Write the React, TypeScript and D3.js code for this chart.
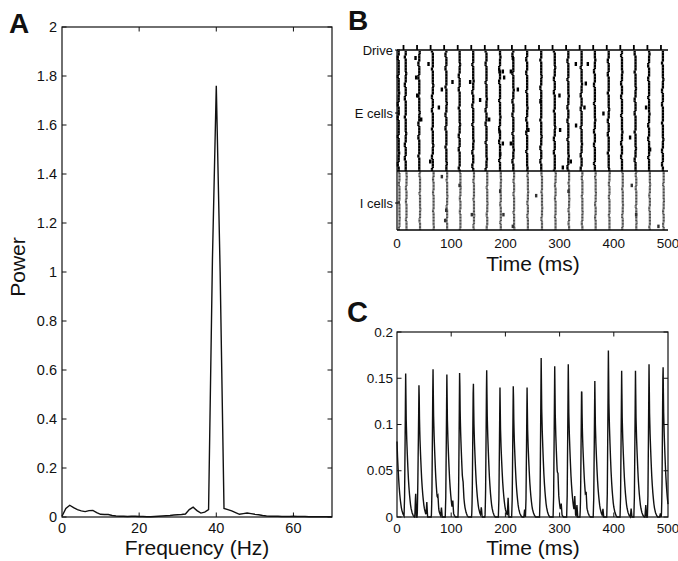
import React from 'react';
import * as d3 from 'd3';

// ---------- Panel A: power spectrum (1 Hz bins, 0..70 Hz) ----------
const POWER = [
  0.003, 0.035, 0.048, 0.038, 0.030, 0.025, 0.022, 0.026, 0.027, 0.018,
  0.011, 0.010, 0.010, 0.006, 0.004, 0.003, 0.003, 0.002, 0.003, 0.003,
  0.002, 0.002, 0.001, 0.001, 0.002, 0.003, 0.004, 0.005, 0.006, 0.008,
  0.009, 0.010, 0.012, 0.030, 0.040, 0.026, 0.016, 0.020, 0.030, 1.05,
  1.76, 1.00, 0.035, 0.030, 0.025, 0.018, 0.011, 0.014, 0.016, 0.014,
  0.011, 0.009, 0.006, 0.004, 0.003, 0.003, 0.003, 0.002, 0.002, 0.002,
  0.003, 0.002, 0.002, 0.002, 0.001, 0.001, 0.001, 0.001, 0.001, 0.001,
  0.001,
];
const A_XTICKS = [0, 20, 40, 60];
const A_YTICKS = [0, 0.2, 0.4, 0.6, 0.8, 1, 1.2, 1.4, 1.6, 1.8, 2];

// ---------- Panel B: raster ----------
const DRIVE_TIMES = [12, 37, 62, 87, 112, 137, 162, 187, 212, 237, 262, 287, 312, 337, 362, 387, 412, 437, 462, 487];
const E_VOLLEYS = [3, 16, 41, 66, 91, 115.5, 140.5, 165, 190, 214.5, 240, 266, 291, 316, 340.5, 365, 390.5, 415, 440, 465, 490.5];
const VOLLEY_SHIFT = [0, 13, 27, 5, 33, 19, 8, 36, 24, 2, 30, 11, 17, 38, 6, 22, 29, 14, 3, 26, 9];
const E_JITTER = [0, 0, 0, -1.6, -1.6, -1.6, 0, 0, 0, 0, 0, 0, 0, 0, 0, 0, -1.6, -1.6, 0, 0, 0, 0, 0, 0, 0, 0, 0, 0.8, 0.8, 0, 0, 0, 0, 0, -1.6, -1.6, -1.6, 0, 0, 0];
const I_DELAY = 1.5;
const E_ROWS = 80;
const I_ROWS = 40;
const E_EXTRA: [number, number][] = [
  [33.8, 4], [57.8, 8], [35, 17], [102, 20], [82.4, 25], [134.6, 20], [36.9, 29], [153, 32],
  [76.9, 37], [44.3, 45], [169.7, 45], [188.7, 13], [194.9, 13], [213.3, 4], [209.7, 13],
  [197.3, 17], [222.6, 25], [265.6, 33], [299.4, 29], [329.6, 8], [351.7, 8], [348, 21],
  [345.5, 37], [380.5, 41], [459.2, 37], [330, 49], [300.6, 52], [188.7, 53], [242, 52],
  [429.7, 57], [194.9, 61], [209.7, 61], [466.6, 65], [190, 68], [60.9, 73], [305.6, 77], [320.3, 73],
];
const I_EXTRA: [number, number][] = [
  [82.4, 3], [115, 9], [190, 13], [256.4, 16], [316, 13], [432.8, 9], [90.4, 26], [137.7, 29],
  [196, 29], [440.8, 29], [88.5, 33], [213.3, 37], [482, 37],
];
const B_XTICKS = [0, 100, 200, 300, 400, 500];

// ---------- Panel C: population activity ----------
const C_PEAK_T = [-1, 16, 40.6, 66.4, 92, 115.6, 140.8, 165.4, 190, 214.6, 240, 266, 291, 316, 340.7, 365, 390, 414.5, 440, 465, 490.8];
const C_PEAK_H = [0.12, 0.155, 0.149, 0.165, 0.154, 0.163, 0.154, 0.164, 0.14, 0.148, 0.14, 0.172, 0.163, 0.165, 0.149, 0.147, 0.18, 0.158, 0.158, 0.165, 0.173];
const KERNEL_T = [-3, -2, -1, 0, 1, 2, 3, 4, 5, 6, 7, 8, 9, 10, 12, 14, 16];
const KERNEL_V = [0, 0.14, 0.55, 1, 0.68, 0.54, 0.44, 0.35, 0.27, 0.21, 0.16, 0.12, 0.085, 0.06, 0.028, 0.01, 0];
const C_BUMP_T = [34.4, 38.7, 55, 75.6, 82, 103, 122, 155.6, 205, 235.5, 297, 303, 328, 332, 349, 380, 432, 459, 486];
const C_BUMP_H = [0.027, 0.024, 0.015, 0.01, 0.01, 0.011, 0.007, 0.01, 0.02, 0.008, 0.013, 0.01, 0.018, 0.013, 0.011, 0.008, 0.009, 0.013, 0.004];
const C_XTICKS = [0, 100, 200, 300, 400, 500];
const C_YTICKS = [0, 0.05, 0.1, 0.15, 0.2];

const FONT = "'Liberation Sans', Arial, Helvetica, sans-serif";
const fmt = (v: number) => String(+v.toFixed(2));

export default function App() {
  // Panel A
  const xA = d3.scaleLinear().domain([0, 70]).range([62, 332]);
  const yA = d3.scaleLinear().domain([0, 2]).range([517, 27]);
  const lineA = d3.line<number>().x((_, i) => xA(i)).y((d) => yA(d));

  // Panel B
  const xB = d3.scaleLinear().domain([0, 500]).range([397, 668]);
  const yE = d3.scaleLinear().domain([0, E_ROWS]).range([51, 171]);
  const yI = d3.scaleLinear().domain([0, I_ROWS]).range([171.5, 230]);
  const eH = yE(1) - yE(0);
  const iH = yI(1) - yI(0);
  const eSpikes: { x: number; y: number }[] = [];
  const iSpikes: { x: number; y: number }[] = [];
  E_VOLLEYS.forEach((t, v) => {
    for (let r = 0; r < E_ROWS; r++) {
      const j = E_JITTER[(r + VOLLEY_SHIFT[v]) % E_JITTER.length];
      eSpikes.push({ x: xB(t + j), y: yE(r) });
    }
    for (let r = 0; r < I_ROWS; r++) {
      const j = E_JITTER[(r + VOLLEY_SHIFT[(v + 7) % VOLLEY_SHIFT.length]) % E_JITTER.length];
      iSpikes.push({ x: xB(t + I_DELAY + j * 0.6), y: yI(r) });
    }
  });

  // Panel C
  const xC = d3.scaleLinear().domain([0, 500]).range([397, 668]);
  const yC = d3.scaleLinear().domain([0, 0.2]).range([517, 332]);
  const kern = d3.scaleLinear().domain(KERNEL_T).range(KERNEL_V).clamp(true);
  const bump = d3.scaleLinear().domain([-1.5, 0, 1.5]).range([0, 1, 0]).clamp(true);
  const times = d3.range(0, 500.01, 0.5);
  const trace = times.map((t) => {
    let v = 0;
    C_PEAK_T.forEach((tp, k) => { v += C_PEAK_H[k] * kern(t - tp); });
    C_BUMP_T.forEach((tb, k) => { v += C_BUMP_H[k] * bump(t - tb); });
    return [t, v] as [number, number];
  });
  const lineC = d3.line<[number, number]>().x((d) => xC(d[0])).y((d) => yC(d[1]));

  const TL = 4.5;
  const txt = { fontFamily: FONT, fill: '#111' } as const;

  return (
    <svg width={678} height={561} style={{ position: 'absolute', left: 0, top: 0, background: '#fff' }}>
      <rect x={0} y={0} width={678} height={561} fill="#fff" />

      {/* ===== Panel A ===== */}
      <text x={9} y={33} fontSize={28} fontWeight="bold" {...txt}>A</text>
      <rect x={xA(0)} y={yA(2)} width={xA(70) - xA(0)} height={yA(0) - yA(2)} fill="none" stroke="#111" strokeWidth={1.2} />
      {A_XTICKS.filter((v) => v > 0).map((v) => (
        <g key={'ax' + v}>
          <line x1={xA(v)} x2={xA(v)} y1={yA(0)} y2={yA(0) - TL} stroke="#111" />
          <line x1={xA(v)} x2={xA(v)} y1={yA(2)} y2={yA(2) + TL} stroke="#111" />
        </g>
      ))}
      {A_XTICKS.map((v) => (
        <text key={'axl' + v} x={xA(v)} y={533} fontSize={14.5} textAnchor="middle" {...txt}>{v}</text>
      ))}
      {A_YTICKS.map((v) => (
        <g key={'ay' + v}>
          <line x1={xA(0)} x2={xA(0) + TL} y1={yA(v)} y2={yA(v)} stroke="#111" />
          <line x1={xA(70)} x2={xA(70) - TL} y1={yA(v)} y2={yA(v)} stroke="#111" />
          <text x={57} y={yA(v)} dy="0.35em" fontSize={14.5} textAnchor="end" {...txt}>{fmt(v)}</text>
        </g>
      ))}
      <path d={lineA(POWER) || ''} fill="none" stroke="#111" strokeWidth={1.4} />
      <text x={197} y={555} fontSize={21} textAnchor="middle" {...txt}>Frequency (Hz)</text>
      <text transform="translate(25,267) rotate(-90)" fontSize={21} textAnchor="middle" {...txt}>Power</text>

      {/* ===== Panel B ===== */}
      <text x={348} y={30} fontSize={28} fontWeight="bold" {...txt}>B</text>
      {iSpikes.map((s, k) => (
        <rect key={'is' + k} x={s.x - 1.1} y={s.y} width={2.2} height={iH * 0.85} fill="#4a4a4a" />
      ))}
      {eSpikes.map((s, k) => (
        <rect key={'es' + k} x={s.x - 1.1} y={s.y} width={2.3} height={eH + 0.1} fill="#000" />
      ))}
      {E_EXTRA.map(([t, r], k) => (
        <rect key={'ee' + k} x={xB(t) - 1} y={yE(r) - 1} width={2.4} height={4} fill="#000" />
      ))}
      {I_EXTRA.map(([t, r], k) => (
        <rect key={'ie' + k} x={xB(t) - 1} y={yI(r) - 1} width={2.4} height={3.5} fill="#333" />
      ))}
      <line x1={xB(0)} x2={xB(500)} y1={50} y2={50} stroke="#000" strokeWidth={1.5} />
      {DRIVE_TIMES.map((t) => (
        <line key={'dr' + t} x1={xB(t)} x2={xB(t)} y1={45} y2={50} stroke="#000" strokeWidth={1.8} />
      ))}
      <line x1={xB(0)} x2={xB(500)} y1={171} y2={171} stroke="#000" strokeWidth={1.4} />
      <line x1={xB(0)} x2={xB(500)} y1={230} y2={230} stroke="#000" strokeWidth={1.4} />
      <line x1={xB(0)} x2={xB(0)} y1={50} y2={230} stroke="#000" strokeWidth={1.2} />
      {[50, 113, 203].map((y, k) => (
        <line key={'bt' + k} x1={xB(0) - 2} x2={xB(0) + 3} y1={y} y2={y} stroke="#000" />
      ))}
      <text x={393} y={50} dy="0.35em" fontSize={13} textAnchor="end" {...txt}>Drive</text>
      <text x={393} y={113} dy="0.35em" fontSize={13} textAnchor="end" {...txt}>E cells</text>
      <text x={393} y={203} dy="0.35em" fontSize={13} textAnchor="end" {...txt}>I cells</text>
      {B_XTICKS.map((v) => (
        <text key={'bx' + v} x={xB(v)} y={248} fontSize={13.5} textAnchor="middle" {...txt}>{v}</text>
      ))}
      <text x={533} y={271} fontSize={21} textAnchor="middle" {...txt}>Time (ms)</text>

      {/* ===== Panel C ===== */}
      <text x={347} y={322} fontSize={29} fontWeight="bold" {...txt}>C</text>
      <rect x={xC(0)} y={yC(0.2)} width={xC(500) - xC(0)} height={yC(0) - yC(0.2)} fill="none" stroke="#111" strokeWidth={1.2} />
      {C_XTICKS.filter((v) => v > 0 && v < 500).map((v) => (
        <g key={'cx' + v}>
          <line x1={xC(v)} x2={xC(v)} y1={yC(0)} y2={yC(0) - TL} stroke="#111" />
          <line x1={xC(v)} x2={xC(v)} y1={yC(0.2)} y2={yC(0.2) + TL} stroke="#111" />
        </g>
      ))}
      {C_XTICKS.map((v) => (
        <text key={'cxl' + v} x={xC(v)} y={533} fontSize={13.5} textAnchor="middle" {...txt}>{v}</text>
      ))}
      {C_YTICKS.map((v) => (
        <g key={'cy' + v}>
          <line x1={xC(0)} x2={xC(0) + TL} y1={yC(v)} y2={yC(v)} stroke="#111" />
          <line x1={xC(500)} x2={xC(500) - TL} y1={yC(v)} y2={yC(v)} stroke="#111" />
          <text x={393} y={yC(v)} dy="0.35em" fontSize={13.5} textAnchor="end" {...txt}>{fmt(v)}</text>
        </g>
      ))}
      <path d={lineC(trace) || ''} fill="none" stroke="#111" strokeWidth={1.4} />
      <text x={533} y={555} fontSize={21} textAnchor="middle" {...txt}>Time (ms)</text>
    </svg>
  );
}
